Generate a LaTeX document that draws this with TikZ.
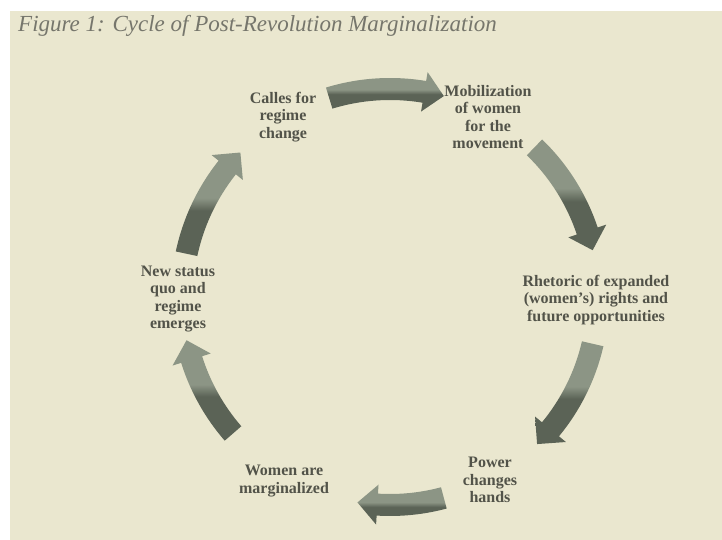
\documentclass[tikz,border=0pt]{standalone}
\usepackage{fontspec}
\setmainfont{Liberation Serif}
\definecolor{bg}{HTML}{EAE7CF}
\definecolor{txt}{HTML}{525349}
\definecolor{ttl}{HTML}{76766C}
\definecolor{arlight}{HTML}{8C9585}
\definecolor{ardark}{HTML}{5B6356}
\pgfdeclareverticalshading{arrsh}{100bp}{color(0bp)=(ardark); color(47bp)=(ardark); color(53bp)=(arlight); color(100bp)=(arlight)}
\def\cycR{208}\def\cycRo{219}\def\cycRi{197}\def\cycRho{228}\def\cycRhi{188}
\newcommand\cycarr[2]{%
  \pgfmathsetmacro\cycHB{#2+5.5}%
  \shade[shading=arrsh]
    ([shift={(C)}]#1:\cycRo) arc[start angle=#1, end angle=\cycHB, radius=\cycRo]
    -- ([shift={(C)}]\cycHB:\cycRho) -- ([shift={(C)}]#2:\cycR)
    -- ([shift={(C)}]\cycHB:\cycRhi) -- ([shift={(C)}]\cycHB:\cycRi)
    arc[start angle=\cycHB, end angle=#1, radius=\cycRi] -- cycle;}
\tikzset{lbl/.style={font=\bfseries\fontsize{16}{17.5}\selectfont, align=center, text=txt, inner sep=0pt}}
\begin{document}
\begin{tikzpicture}[x=1pt,y=1pt]
\useasboundingbox (0,0) rectangle (722,540);
\fill[bg] (10,0) rectangle (722,529);
\node[anchor=base west, text=ttl, inner sep=0pt, font=\itshape\fontsize{23}{27}\selectfont] (title) at (18,508) {Figure 1: Cycle of Post-Revolution Marginalization};
\coordinate (C) at (390,243);
\cycarr{107}{75}
\cycarr{46}{13}
\cycarr{-13}{-45}
\cycarr{-75}{-99}
\cycarr{221}{192}
\cycarr{168}{136}
\node[lbl] (calls) at (283,423) {Calles for\\regime\\change};
\node[lbl] (mob) at (488,423) {Mobilization\\of women\\for the\\movement};
\node[lbl] (rhet) at (596,240) {Rhetoric of expanded\\(women's) rights and\\future opportunities};
\node[lbl] (power) at (490,60) {Power\\changes\\hands};
\node[lbl] (women) at (284,59) {Women are\\marginalized};
\node[lbl] (newsq) at (178,241) {New status\\quo and\\regime\\emerges};
\end{tikzpicture}
\end{document}
